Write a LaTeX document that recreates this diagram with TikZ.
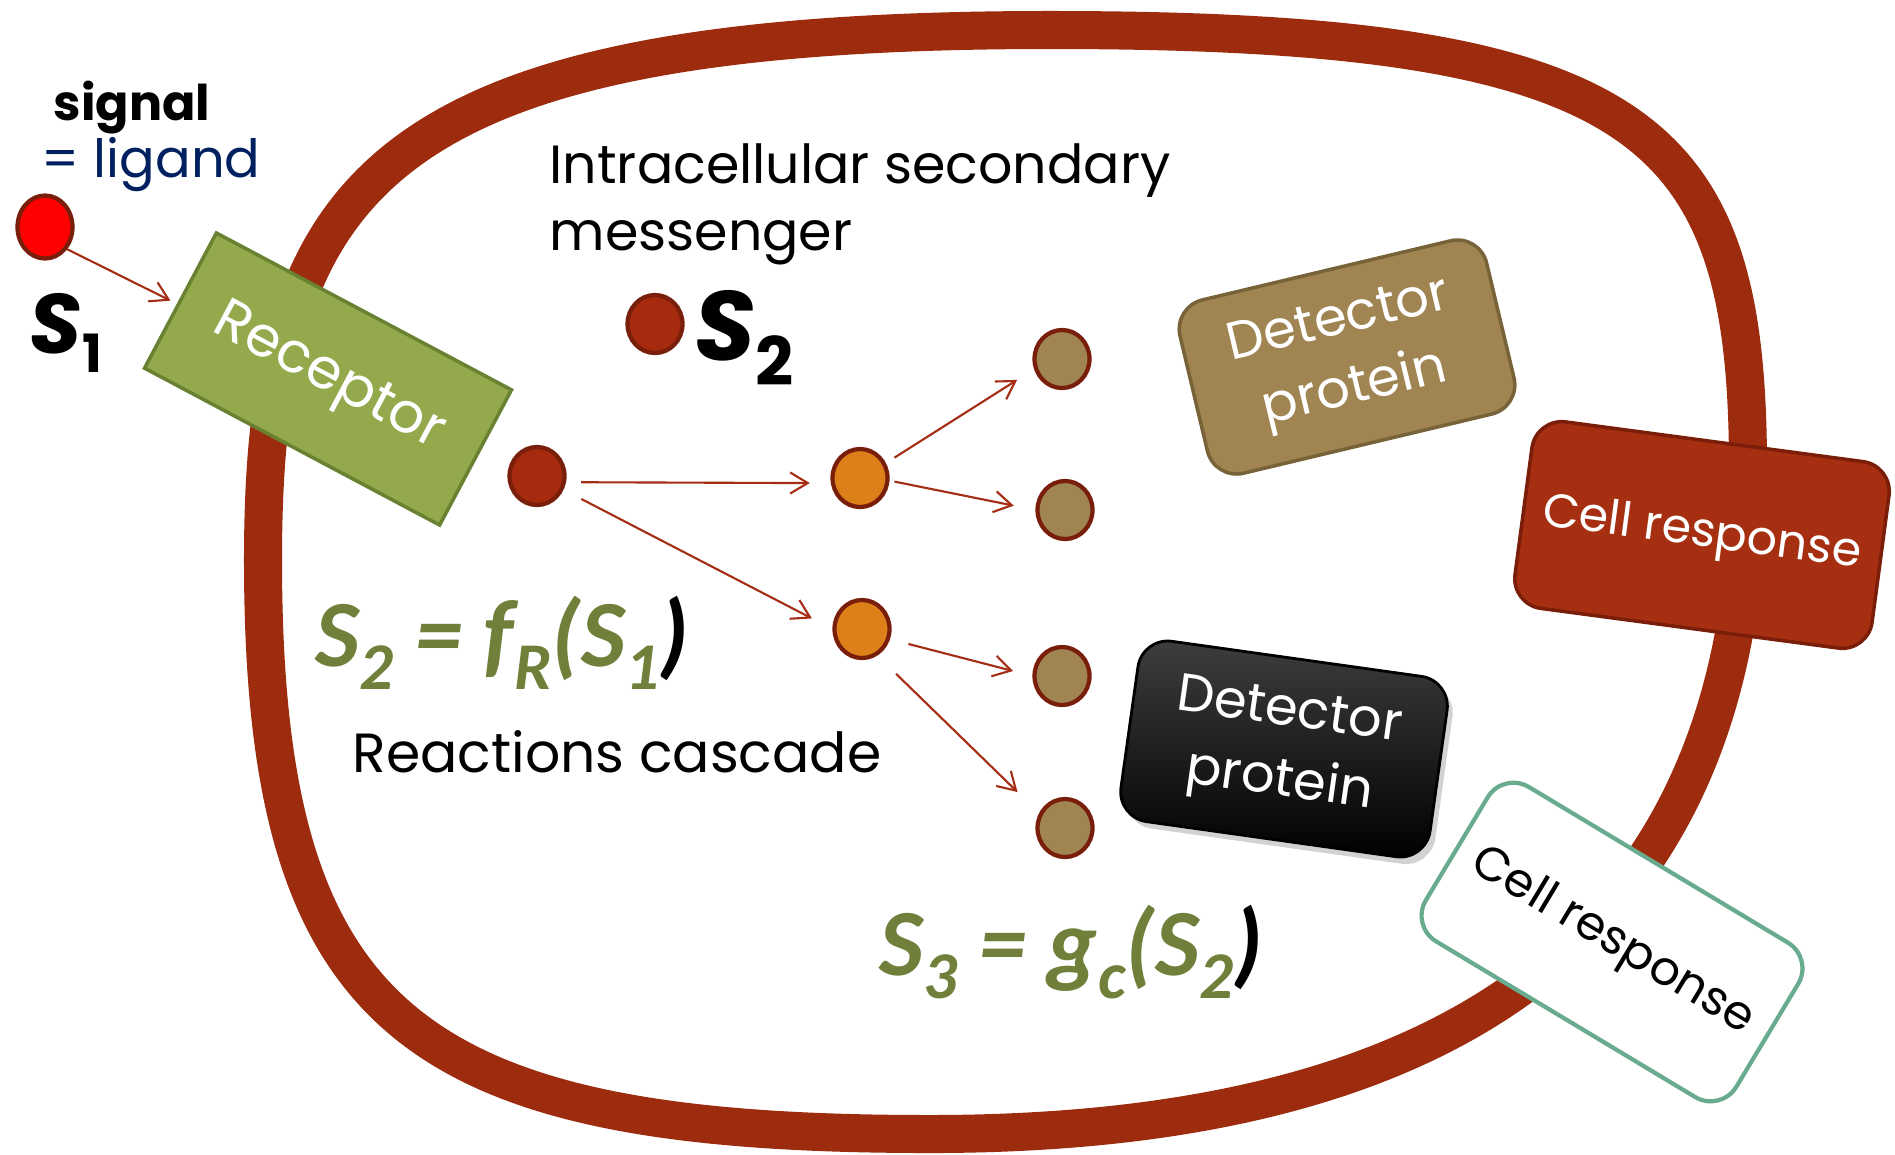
\documentclass[tikz,border=0pt]{standalone}
\usepackage{fontspec}
\setmainfont{Poppins}
\newfontfamily\eqfont{Carlito}
\usetikzlibrary{arrows.meta,shapes.geometric,shadows}
\definecolor{cellred}{RGB}{157,44,15}
\definecolor{dotred}{RGB}{165,42,14}
\definecolor{dotline}{RGB}{120,30,10}
\definecolor{arrowred}{RGB}{165,45,20}
\definecolor{orange1}{RGB}{222,128,26}
\definecolor{tan1}{RGB}{160,132,82}
\definecolor{tanline}{RGB}{120,98,56}
\definecolor{recgreen}{RGB}{147,169,76}
\definecolor{recline}{RGB}{105,130,50}
\definecolor{eqgreen}{RGB}{112,128,58}
\definecolor{navy1}{RGB}{0,32,96}
\definecolor{respred}{RGB}{166,46,17}
\definecolor{respline}{RGB}{122,30,10}
\definecolor{teal1}{RGB}{104,171,142}
\definecolor{cardtop}{RGB}{62,62,62}
\newcommand{\lowsub}[3]{\raisebox{-#1}{\fontsize{#2}{#2}\selectfont #3}}
\begin{document}
\begin{tikzpicture}[x=0.01cm,y=-0.01cm,
  txt/.style={inner sep=0,anchor=base west},
  dot/.style={ellipse,draw=dotline,line width=1.2pt,minimum width=0.55cm,minimum height=0.58cm,inner sep=0},
  arr/.style={-{Straight Barb[length=5pt,width=6pt]},draw=arrowred,line width=0.6pt,shorten <=0.15cm,shorten >=0.21cm},
  card/.style={rounded corners=0.3cm,align=center,text=white,font=\fontsize{15}{20}\selectfont,inner sep=0},
  eq/.style={txt,text=eqgreen,font=\eqfont\fontsize{27}{27}\selectfont\bfseries\itshape}]
\path[use as bounding box,fill=white] (0,0) rectangle (1895,1154);

\draw[cellred,line width=0.38cm] (1050,30) .. controls (1650,30) and (1748,130) .. (1748,470) .. controls (1748,870) and (1530,1134) .. (930,1134) .. controls (410,1134) and (263,1020) .. (263,560) .. controls (263,185) and (375,30) .. (1050,30) -- cycle;

\node[txt,font=\fontsize{14}{14}\selectfont\bfseries] (signal) at (53,120) {signal};
\node[txt,text=navy1,font=\fontsize{15}{15}\selectfont] (ligand) at (41,177) {= ligand};
\node[ellipse,draw=dotline,fill=red,line width=1.2pt,minimum width=0.55cm,minimum height=0.63cm,inner sep=0] (lig) at (45,227) {};
\node[txt,font=\fontsize{24}{24}\selectfont\bfseries] (s1) at (29,353) {\itshape S\upshape\lowsub{0.19cm}{15}{1}};

\node[draw=recline,fill=recgreen,line width=1pt,minimum width=3.34cm,minimum height=1.53cm,rotate=-28,text=white,font=\fontsize{16}{16}\selectfont] (rec) at (328,379) {Receptor};

\node[txt,align=left,font=\fontsize{15.3}{19}\selectfont] (msg) at (549,250) {Intracellular secondary\\messenger};
\node[dot,fill=dotred] (leg) at (655,324) {};
\node[txt,font=\fontsize{28}{28}\selectfont\bfseries] (s2) at (694,360) {\itshape S\upshape\lowsub{0.25cm}{19}{2}};

\node[dot,fill=dotred] (dA) at (537,476) {};
\node[dot,fill=orange1] (dB) at (860,478) {};
\node[dot,fill=orange1] (dC) at (862,629) {};
\node[dot,fill=tan1] (d1) at (1062,359) {};
\node[dot,fill=tan1] (d2) at (1065,510) {};
\node[dot,fill=tan1] (d3) at (1062,676) {};
\node[dot,fill=tan1] (d4) at (1065,828) {};

\node[eq] (eqR) at (315,666) {S\lowsub{0.23cm}{19}{2} = f\lowsub{0.23cm}{19}{R}(S\lowsub{0.23cm}{19}{1}\textcolor{black}{)}};
\node[txt,font=\fontsize{15.7}{16}\selectfont] (casc) at (352,772) {Reactions cascade};
\node[eq] (eqC) at (879,975) {S\lowsub{0.23cm}{19}{3} = g\lowsub{0.23cm}{19}{c}(S\lowsub{0.23cm}{19}{2}\textcolor{black}{)}};

\node[card,fill=tan1,draw=tanline,line width=1pt,minimum width=3.15cm,minimum height=1.78cm,rotate=13.4] (det1) at (1347,357) {Detector\\protein};
\node[card,top color=cardtop,bottom color=black,draw=black,line width=0.8pt,drop shadow={shadow xshift=1.5pt,shadow yshift=-2pt,opacity=0.35},minimum width=3.12cm,minimum height=1.82cm,rotate=-8] (det2) at (1284,749) {Detector\\protein};
\node[card,fill=respred,draw=respline,line width=1pt,font=\fontsize{13.5}{16}\selectfont,minimum width=3.6cm,minimum height=1.88cm,rotate=-7.6] (resp1) at (1702,535) {Cell response};
\node[card,fill=white,draw=teal1,line width=1.2pt,text=black,font=\fontsize{13.5}{16}\selectfont,minimum width=3.62cm,minimum height=1.8cm,rotate=-31] (resp2) at (1612,942) {Cell response};

\draw[arr,shorten <=0pt,shorten >=0.07cm] (lig.-45) -- (rec);
\draw[arr] (dA.-12) -- (dB.190);
\draw[arr,shorten <=0.2cm,shorten >=0.23cm] (dA) -- (dC.west);
\draw[arr,shorten <=0.1cm,shorten >=0.2cm] (dB.30) -- (d1.200);
\draw[arr,shorten <=0.05cm,shorten >=0.22cm] (dB.-5) -- (d2.west);
\draw[arr,shorten <=0.19cm,shorten >=0.2cm] (dC.-20) -- (d3.west);
\draw[arr,shorten <=0.26cm,shorten >=0.3cm] (dC.-60) -- (d4.150);
\end{tikzpicture}
\end{document}
